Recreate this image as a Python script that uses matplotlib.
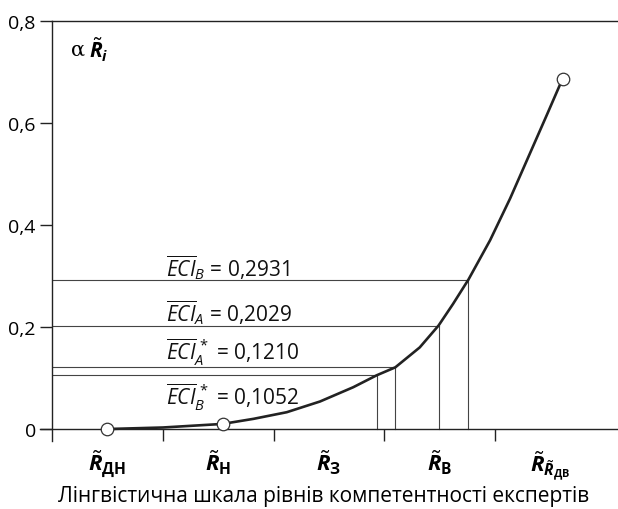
import matplotlib
matplotlib.use("Agg")
import matplotlib.pyplot as plt

# data
catLabels = [r"$\tilde{\mathbf{R}}_{\mathsf{ДН}}$", r"$\tilde{\mathbf{R}}_{\mathsf{Н}}$",
             r"$\tilde{\mathbf{R}}_{\mathsf{З}}$", r"$\tilde{\mathbf{R}}_{\mathsf{В}}$",
             r"$\tilde{\mathbf{R}}_{\tilde{\mathbf{R}}_{\mathsf{ДВ}}}$"]
curveX = [0.0, 0.5, 1.04, 1.32, 1.62, 1.92, 2.22, 2.43, 2.60, 2.82, 2.99, 3.12, 3.26, 3.455, 3.636, 3.80, 3.97, 4.11]
curveY = [0.0, 0.003, 0.010, 0.020, 0.033, 0.054, 0.082, 0.1052, 0.1210, 0.160, 0.2029, 0.245, 0.2931, 0.370, 0.452, 0.533, 0.617, 0.687]
markX = [0.0, 1.04, 4.11]
markY = [0.0, 0.010, 0.687]
eciNames = [r"$\overline{ECI}_B$", r"$\overline{ECI}_A$", r"$\overline{ECI}_A^{\,*}$", r"$\overline{ECI}_B^{\,*}$"]
eciVals = [0.2931, 0.2029, 0.1210, 0.1052]
eciX = [3.26, 2.99, 2.60, 2.43]
yTicks = [0, 0.2, 0.4, 0.6, 0.8]
yTickLabels = ["0", "0,2", "0,4", "0,6", "0,8"]
xLabel = "Лінгвістична шкала рівнів компетентності експертів"

plt.rcParams["font.family"] = ["Open Sans", "DejaVu Sans"]
plt.rcParams["mathtext.fontset"] = "custom"
plt.rcParams["mathtext.it"] = "Open Sans:italic"
plt.rcParams["mathtext.rm"] = "Open Sans"
plt.rcParams["mathtext.bf"] = "Open Sans:bold:italic"
plt.rcParams["mathtext.sf"] = "Open Sans:bold"

lineCol = "#222222"
thinCol = "#444444"

fig = plt.figure(figsize=(6.18, 5.10), dpi=100)
ax = fig.add_axes([0.0841, 0.1333, 0.9159, 0.8236])
ax.set_xlim(-0.5, 4.61)
ax.set_ylim(-0.0235, 0.8)

ax.spines["right"].set_visible(False)
ax.spines["bottom"].set_visible(False)
ax.spines["top"].set_color(lineCol)
ax.spines["left"].set_color(lineCol)
ax.spines["top"].set_linewidth(1.0)
ax.spines["left"].set_linewidth(1.0)

# x axis line at zero
ax.plot([-0.61, 4.61], [0, 0], color=lineCol, lw=1.0, clip_on=False, zorder=2)

# guide lines
for i in range(len(eciVals)):
    ax.plot([-0.5, eciX[i]], [eciVals[i], eciVals[i]], color=thinCol, lw=0.8, zorder=1)
    ax.plot([eciX[i], eciX[i]], [0, eciVals[i]], color=thinCol, lw=0.8, zorder=1)

labelY = [0.319, 0.230, 0.152, 0.063]
for i in range(len(eciVals)):
    ax.text(0.53, labelY[i], eciNames[i] + " = " + ("%.4f" % eciVals[i]).replace(".", ","),
            fontsize=15, va="center", ha="left", color="#111111")

# curve
ax.plot(curveX, curveY, color=lineCol, lw=1.9, zorder=3, clip_on=False,
        solid_joinstyle="round")
ax.plot(markX, markY, linestyle="", marker="o", markersize=9, markerfacecolor="white",
        markeredgecolor="#333333", markeredgewidth=0.9, zorder=4, clip_on=False)

# ticks
ax.set_yticks(yTicks)
ax.set_yticklabels(yTickLabels, fontsize=14)
ax.tick_params(axis="y", direction="out", length=8.6, width=1.0, color=lineCol, pad=3)
ax.set_xticks(range(len(catLabels)))
ax.set_xticklabels(catLabels, fontsize=16)
ax.tick_params(axis="x", which="major", length=0, pad=5)
ax.set_xticks([0.5, 1.5, 2.5, 3.5], minor=True)
ax.tick_params(axis="x", which="minor", direction="in", length=8.6, width=1.0, color=lineCol)

ax.set_xlabel(xLabel, fontsize=15)
ax.xaxis.set_label_coords(0.48, -0.105, transform=ax.transAxes)

ax.text(-0.33, 0.745, "α", fontsize=15, va="center", ha="left", family=["DejaVu Serif"])
ax.text(-0.17, 0.745, r"$\tilde{\mathbf{R}}_{\mathbf{i}}$", fontsize=15, va="center", ha="left")

plt.savefig("out.png", dpi=100)
